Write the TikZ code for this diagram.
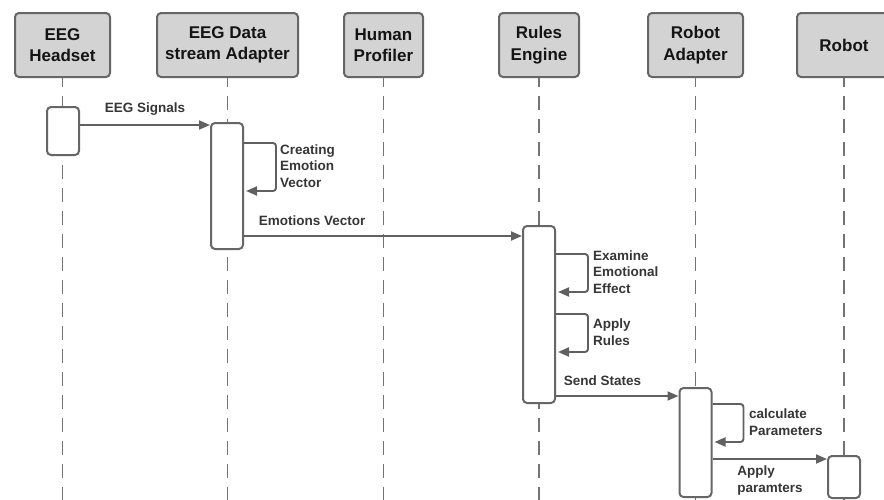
\documentclass[tikz,border=0pt]{standalone}
\usepackage{fontspec}
\setmainfont{Liberation Sans}
\usepackage{tikz}
\usetikzlibrary{arrows.meta, positioning}
\usepackage{xcolor}
\definecolor{boxfill}{HTML}{D3D3D3}
\definecolor{boxline}{HTML}{666666}
\definecolor{msgline}{HTML}{606060}
\definecolor{dashline}{HTML}{747474}
\definecolor{lbltext}{HTML}{363636}
\tikzset{%
	actor/.style={
		rectangle,
		rounded corners=4pt,
		draw=boxline,
		fill=boxfill,
		line width=2pt,
		minimum height=64pt,
		inner sep=0pt,
		align=center,
		text=black!92,
		font=\bfseries\fontsize{17}{21.5}\selectfont
	},
	lifeline/.style={
		draw=dashline,
		line width=1.9pt,
		dash pattern=on 14pt off 9pt,
		dash phase=5pt
	},
	actbox/.style={
		rectangle,
		rounded corners=4pt,
		draw=boxline,
		fill=white,
		line width=2pt,
		minimum width=32pt,
		inner sep=0pt
	},
	msg/.style={
		draw=msgline,
		line width=1.9pt,
		-{Triangle[length=11pt,width=9pt]}
	},
	lbl/.style={
		align=left,
		inner sep=0pt,
		text=lbltext,
		font=\bfseries\fontsize{13.5}{16.5}\selectfont
	},
}

\begin{document}
\begin{tikzpicture}[x=1pt, y=-1pt]
			\useasboundingbox (0,0) rectangle (884,499);
			\clip (0,0) rectangle (884,499);
			\coordinate (bot) at (0,500);
			
			% Draw the participants
			\node[actor, minimum width=95pt] (hdset) at (62.5,45) {EEG\\Headset};
			\node[actor, minimum width=141pt] (dsadp) at (227.5,45) {EEG Data\\stream Adapter};
			\node[actor, minimum width=79pt] (hprof) at (383.5,45) {Human\\Profiler};
			\node[actor, minimum width=80pt] (rules) at (539,45) {Rules\\Engine};
			\node[actor, minimum width=95pt] (radp) at (695.5,45) {Robot\\Adapter};
			\node[actor, minimum width=94pt] (robot) at (844,45) {Robot};
			
			% Draw the lifelines
			\foreach \p in {hdset, dsadp, hprof, rules, radp, robot}
				\draw[lifeline] (\p.south) -- (\p.south |- bot);
			
			% Draw the activation boxes
			\node[actbox, minimum height=48pt] (hdsetact) at (63,131) {};
			\node[actbox, minimum height=126pt] (dsadpact) at (227,186) {};
			\node[actbox, minimum height=177pt] (rulesact) at (539,314.5) {};
			\node[actbox, minimum height=109pt] (radpact) at (695.5,442.5) {};
			\node[actbox, minimum height=42pt] (robotact) at (844,477) {};
			
			% Draw the messages
			\draw[msg] (hdsetact.east |- 0,125) -- (dsadpact.west |- 0,125)
				node[lbl, pos=0, anchor=south west, xshift=24pt, yshift=9pt] (sigl) {EEG Signals};
			\draw[msg] (dsadpact.east |- 0,236) -- (rulesact.west |- 0,236)
				node[lbl, pos=0, anchor=south west, xshift=14pt, yshift=9pt] (vecl) {Emotions Vector};
			\draw[msg] (rulesact.east |- 0,396) -- (radpact.west |- 0,396)
				node[lbl, pos=0, anchor=south west, xshift=7pt, yshift=9pt] (stl) {Send States};
			\draw[msg] (radpact.east |- 0,459) -- (robotact.west |- 0,459)
				node[lbl, pos=0, anchor=north west, xshift=24pt, yshift=-6pt] (prl) {Apply\\paramters};
			
			% Draw the self calls
			\draw[msg, rounded corners=3pt] (dsadpact.east |- 0,143) -- ++(32,0) -- ++(0,48) -- ++(-30,0);
			\node[lbl, anchor=west] (crel) at (280,166) {Creating\\Emotion\\Vector};
			\draw[msg, rounded corners=3pt] (rulesact.east |- 0,254) -- ++(32,0) -- ++(0,38) -- ++(-30,0);
			\node[lbl, anchor=west] (exml) at (593,272) {Examine\\Emotional\\Effect};
			\draw[msg, rounded corners=3pt] (rulesact.east |- 0,314) -- ++(32,0) -- ++(0,38) -- ++(-30,0);
			\node[lbl, anchor=west] (rull) at (593,332) {Apply\\Rules};
			\draw[msg, rounded corners=3pt] (radpact.east |- 0,404) -- ++(31,0) -- ++(0,38) -- ++(-29,0);
			\node[lbl, anchor=west] (call) at (749,422) {calculate\\Parameters};
		\end{tikzpicture}
\end{document}
